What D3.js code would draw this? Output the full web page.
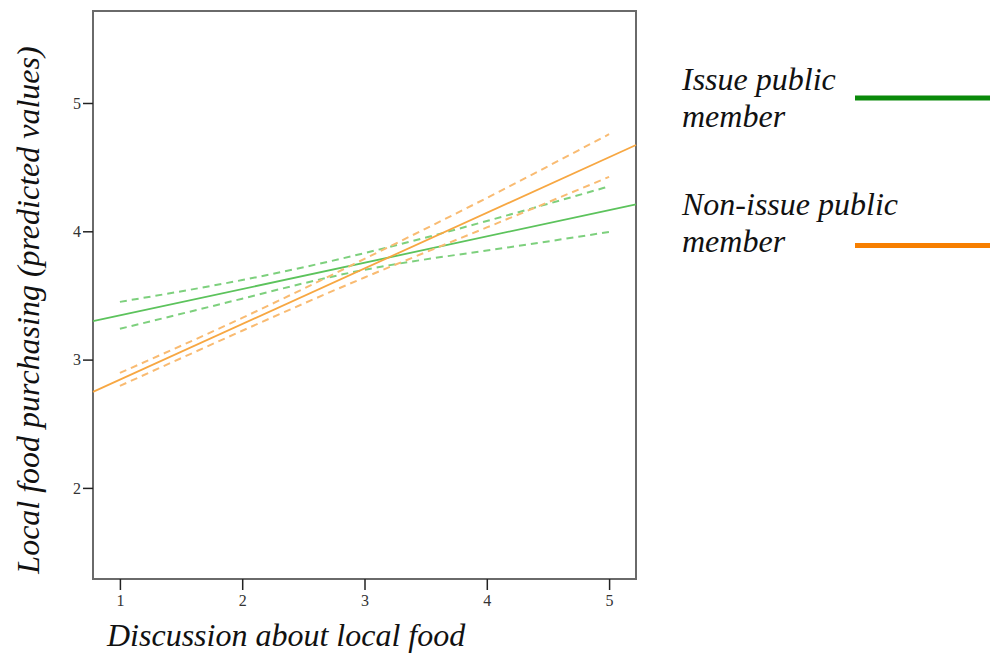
<!DOCTYPE html>
<html>
<head>
<meta charset="utf-8">
<script src="https://cdn.jsdelivr.net/npm/d3@7"></script>
<style>
  html, body { margin: 0; padding: 0; background: #fff; }
  svg { display: block; }
</style>
</head>
<body>
<svg id="chart" width="990" height="654"></svg>
<script>
// Discussion level at which predicted values / bounds are reported
const discussion = [1, 2, 3, 4, 5];
const xTicks = [1, 2, 3, 4, 5];
const yTicks = [2, 3, 4, 5];

// Fitted lines span the whole horizontal axis
const fitX = [0.78, 5.22];
const issueFit = [3.30, 4.21];
const nonIssueFit = [2.748, 4.673];

// Confidence bounds around the fitted lines
const issueUpper = [3.45, 3.62, 3.83, 4.08, 4.35];
const issueLower = [3.24, 3.475, 3.70, 3.85, 3.995];
const nonIssueUpper = [2.896, 3.325, 3.785, 4.26, 4.757];
const nonIssueLower = [2.795, 3.225, 3.64, 4.03, 4.424];

const legendLabels = [["Issue public", "member"], ["Non-issue public", "member"]];

const svg = d3.select("#chart");
const plot = { left: 93, top: 11, right: 636, bottom: 579 };

const x = d3.scaleLinear().domain([0.78, 5.22]).range([plot.left, plot.right]);
const y = d3.scaleLinear().domain([1.29, 5.717]).range([plot.bottom, plot.top]);

const green = "#5cc35c", greenDash = "#7dd07d";
const orange = "#f7a742", orangeDash = "#f9bb72";

// Frame
svg.append("rect")
  .attr("x", plot.left).attr("y", plot.top)
  .attr("width", plot.right - plot.left).attr("height", plot.bottom - plot.top)
  .attr("fill", "none").attr("stroke", "#6a6a6a").attr("stroke-width", 2);

// Axes
const serif = "'Liberation Serif', 'Times New Roman', serif";
const xAxis = svg.append("g")
  .attr("transform", `translate(0,${plot.bottom})`)
  .call(d3.axisBottom(x).tickValues(xTicks).tickSize(11).tickFormat(d3.format("d")));
const yAxis = svg.append("g")
  .attr("transform", `translate(${plot.left},0)`)
  .call(d3.axisLeft(y).tickValues(yTicks).tickSize(10).tickFormat(d3.format("d")));
[xAxis, yAxis].forEach(g => {
  g.attr("font-size", 16).attr("font-family", serif);
  g.select(".domain").remove();
  g.selectAll(".tick line").attr("stroke", "#222").attr("stroke-width", 1.5);
  g.selectAll(".tick text").attr("fill", "#333");
});
xAxis.selectAll(".tick text").attr("y", 16).attr("dy", "0.71em");
yAxis.selectAll(".tick text").attr("x", -12);

// Lines
const line = d3.line().x(d => x(d[0])).y(d => y(d[1]));
const bound = d3.line().x(d => x(d[0])).y(d => y(d[1])).curve(d3.curveNatural);

function drawSet(fit, upper, lower, col, dashCol) {
  [upper, lower].forEach(vals => {
    svg.append("path")
      .attr("d", bound(discussion.map((d, i) => [d, vals[i]])))
      .attr("fill", "none").attr("stroke", dashCol).attr("stroke-width", 2)
      .attr("stroke-dasharray", "7,5");
  });
  svg.append("path")
    .attr("d", line(fitX.map((d, i) => [d, fit[i]])))
    .attr("fill", "none").attr("stroke", col).attr("stroke-width", 1.8);
}
drawSet(issueFit, issueUpper, issueLower, green, greenDash);
drawSet(nonIssueFit, nonIssueUpper, nonIssueLower, orange, orangeDash);

// Axis titles
svg.append("text")
  .attr("x", 107).attr("y", 646)
  .attr("font-family", serif).attr("font-style", "italic").attr("font-size", 32)
  .attr("fill", "#111")
  .text("Discussion about local food");
svg.append("text")
  .attr("transform", "translate(39,310) rotate(-90)")
  .attr("text-anchor", "middle")
  .attr("font-family", serif).attr("font-style", "italic").attr("font-size", 32)
  .attr("fill", "#111")
  .text("Local food purchasing (predicted values)");

// Legend
const legendColors = ["#0a8a0a", "#f77f00"];
const legendTop = [90, 215];
const legendLineY = [98, 245.5];
legendLabels.forEach((lines, i) => {
  lines.forEach((t, j) => {
    svg.append("text")
      .attr("x", 682).attr("y", legendTop[i] + j * 37)
      .attr("font-family", serif).attr("font-style", "italic").attr("font-size", 32)
      .attr("fill", "#111")
      .text(t);
  });
  svg.append("line")
    .attr("x1", 855).attr("x2", 990)
    .attr("y1", legendLineY[i]).attr("y2", legendLineY[i])
    .attr("stroke", legendColors[i]).attr("stroke-width", 5);
});
</script>
</body>
</html>
